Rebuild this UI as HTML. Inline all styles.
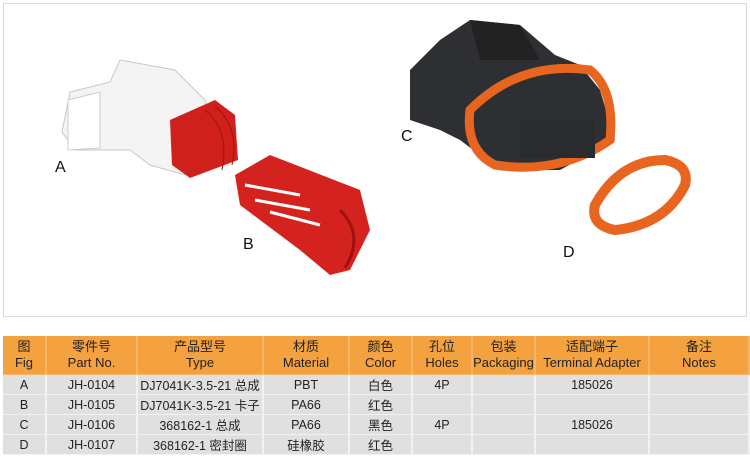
<!DOCTYPE html>
<html><head><meta charset="utf-8"><style>
body{margin:0;width:750px;height:457px;background:#fff;overflow:hidden;font-family:"Liberation Sans","Noto Sans CJK SC",sans-serif;position:relative}
.frame{position:absolute;left:3px;top:3px;width:742px;height:312px;border:1px solid #d8d8d8;background:#fff}
.lbl{position:absolute;font-size:16px;color:#111}
table{position:absolute;left:3px;top:336px;border-collapse:collapse;width:747px;font-size:12.5px;color:#222}
td{text-align:center;padding:0;border-right:2px solid #fff;border-bottom:1px solid #fff}
tr.h td{background:#f4a23f;height:38px;line-height:16px;font-size:13px;border-color:#f7b566}
tr.r td{background:#e0e0e0;height:19px;border-color:#f2f2f2}
</style></head><body>
<div class="frame"></div>
<svg width="750" height="320" style="position:absolute;left:0;top:0">
<!-- A white connector -->
<polygon points="70,92 110,82 120,60 175,70 205,100 215,145 185,175 150,165 130,150 75,150 62,132" fill="#f4f4f4" stroke="#c8c8c8"/>
<polygon points="68,100 100,92 100,148 68,150" fill="#fff" stroke="#ccc"/>
<!-- A red clip -->
<polygon points="170,120 215,100 235,115 238,160 190,178 172,165" fill="#d0201c"/>
<path d="M205,110 Q230,130 222,170 M215,106 Q240,128 232,165" stroke="#a01010" fill="none"/>
<!-- B red clip -->
<polygon points="235,175 270,155 360,190 370,230 350,270 330,275 300,250 240,205" fill="#d4231f"/>
<path d="M245,185 L300,195 M255,200 L310,210 M270,212 L320,225" stroke="#fff" stroke-width="3"/>
<path d="M340,210 Q365,235 345,268" stroke="#a01010" stroke-width="3" fill="none"/>
<!-- C black connector -->
<polygon points="410,70 440,40 470,20 520,25 555,55 580,65 600,90 615,140 560,170 520,170 480,155 460,140 440,130 410,120" fill="#2e2f32"/>
<polygon points="470,20 520,25 540,60 480,60" fill="#222"/>
<!-- orange seal on C -->
<path d="M470,110 Q520,60 590,70 Q615,90 610,140 Q560,175 495,165 Q465,150 470,110Z" fill="none" stroke="#e8651f" stroke-width="9"/>
<rect x="520" y="120" width="75" height="38" fill="#2a2b2e"/>
<!-- D orange seal -->
<path d="M595,205 Q620,160 665,160 Q690,165 685,185 Q665,225 615,230 Q590,225 595,205Z" fill="none" stroke="#e8651f" stroke-width="10"/>
</svg>
<div class="lbl" style="left:55px;top:159px">A</div>
<div class="lbl" style="left:243px;top:236px">B</div>
<div class="lbl" style="left:401px;top:128px">C</div>
<div class="lbl" style="left:563px;top:244px">D</div>
<table>
<colgroup><col style="width:43px"><col style="width:91px"><col style="width:126px"><col style="width:86px"><col style="width:63px"><col style="width:60px"><col style="width:63px"><col style="width:114px"><col></colgroup>
<tr class="h"><td>图<br>Fig</td><td>零件号<br>Part No.</td><td>产品型号<br>Type</td><td>材质<br>Material</td><td>颜色<br>Color</td><td>孔位<br>Holes</td><td>包装<br>Packaging</td><td>适配端子<br>Terminal Adapter</td><td>备注<br>Notes</td></tr>
<tr class="r"><td>A</td><td>JH-0104</td><td>DJ7041K-3.5-21 总成</td><td>PBT</td><td>白色</td><td>4P</td><td></td><td>185026</td><td></td></tr>
<tr class="r"><td>B</td><td>JH-0105</td><td>DJ7041K-3.5-21 卡子</td><td>PA66</td><td>红色</td><td></td><td></td><td></td><td></td></tr>
<tr class="r"><td>C</td><td>JH-0106</td><td>368162-1 总成</td><td>PA66</td><td>黑色</td><td>4P</td><td></td><td>185026</td><td></td></tr>
<tr class="r"><td>D</td><td>JH-0107</td><td>368162-1 密封圈</td><td>硅橡胶</td><td>红色</td><td></td><td></td><td></td><td></td></tr>
</table>
</body></html>
